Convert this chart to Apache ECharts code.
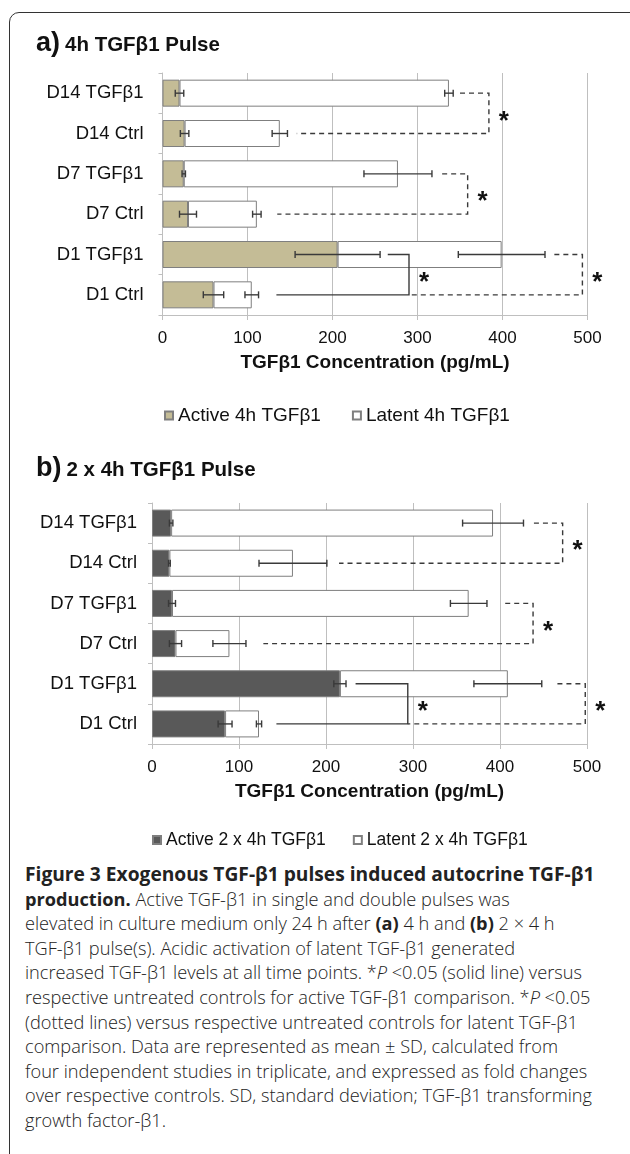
<!DOCTYPE html>
<html>
<head>
<meta charset="utf-8">
<script src="https://cdn.jsdelivr.net/npm/echarts@6/dist/echarts.min.js"></script>
<style>
  html, body { margin: 0; padding: 0; width: 630px; height: 1154px; overflow: hidden; background: #fff; }
  #frame { position: absolute; left: 9px; top: 12px; width: 660px; height: 1200px; border: 1.5px solid #333; border-radius: 10px; box-sizing: border-box; }
  #chart { position: absolute; left: 0; top: 0; width: 630px; height: 860px; }
  #caption { position: absolute; left: 25px; top: 862px; font-family: "Open Sans", "Noto Sans", sans-serif; font-size: 18.2px; font-weight: 300; line-height: 24.6px; color: #222; white-space: nowrap; }
  #caption b { font-weight: 700; }
  #caption .t { font-weight: 700; font-size: 19.2px; }
</style>
</head>
<body>
<div id="frame"></div>
<div id="chart"></div>
<div id="caption">
<span class="t">Figure 3 Exogenous TGF-β1 pulses induced autocrine TGF-β1</span><br>
<b>production.</b> Active TGF-β1 in single and double pulses was<br>
elevated in culture medium only 24 h after <b>(a)</b> 4 h and <b>(b)</b> 2 × 4 h<br>
TGF-β1 pulse(s). Acidic activation of latent TGF-β1 generated<br>
increased TGF-β1 levels at all time points. *<i>P</i> &lt;0.05 (solid line) versus<br>
respective untreated controls for active TGF-β1 comparison. *<i>P</i> &lt;0.05<br>
(dotted lines) versus respective untreated controls for latent TGF-β1<br>
comparison. Data are represented as mean ± SD, calculated from<br>
four independent studies in triplicate, and expressed as fold changes<br>
over respective controls. SD, standard deviation; TGF-β1 transforming<br>
growth factor-β1.
</div>
<script>
// ---- data ----
const categories = ['D14 TGFβ1', 'D14 Ctrl', 'D7 TGFβ1', 'D7 Ctrl', 'D1 TGFβ1', 'D1 Ctrl'];
const xTicks = [0, 100, 200, 300, 400, 500];

// panel a) 4h TGFβ1 pulse
const activeA   = [20, 26, 25, 30, 206, 60];
const activeSdA = [5, 5, 2, 10, 50, 12];
const latentA   = [317, 112, 252, 81, 193, 45];
const latentSdA = [5, 9, 40, 5, 51, 8];

// panel b) 2 x 4h TGFβ1 pulse
const activeB   = [22, 20, 23, 27, 216, 84];
const activeSdB = [2, 1, 4, 7, 7, 8];
const latentB   = [370, 142, 341, 62, 193, 39];
const latentSdB = [35, 39, 21, 19, 39, 3];

// significance brackets: [upper start, vertical, lower start, upper category, lower category, dashed]
const bracketsA = [
  [350, 384, 158, 'D14 TGFβ1', 'D14 Ctrl', 1],
  [329, 359, 135, 'D7 TGFβ1', 'D7 Ctrl', 1],
  [265, 290, 134, 'D1 TGFβ1', 'D1 Ctrl', 0],
  [461, 494, 290, 'D1 TGFβ1', 'D1 Ctrl', 1]
];
const bracketsB = [
  [439, 472, 215, 'D14 TGFβ1', 'D14 Ctrl', 1],
  [406, 438, 128, 'D7 TGFβ1', 'D7 Ctrl', 1],
  [234, 294, 143, 'D1 TGFβ1', 'D1 Ctrl', 0],
  [466, 498, 294, 'D1 TGFβ1', 'D1 Ctrl', 1]
];

const legendA = ['Active 4h TGFβ1', 'Latent 4h TGFβ1'];
const legendB = ['Active 2 x 4h TGFβ1', 'Latent 2 x 4h TGFβ1'];

// ---- helpers ----
const FONT = '"Liberation Sans", Arial, sans-serif';
const GRID_COLOR = '#bfbfbf';
const ERR_COLOR = '#3a3a3a';

function errData(active, activeSd, latent, latentSd) {
  const out = [];
  categories.forEach((c, i) => {
    out.push([c, active[i], activeSd[i]]);
    out.push([c, active[i] + latent[i], latentSd[i]]);
  });
  return out;
}

function renderErr(params, api) {
  const cat = api.value(0), m = api.value(1), sd = api.value(2);
  const p1 = api.coord([m - sd, cat]);
  const p2 = api.coord([m + sd, cat]);
  const h = 3.5;
  const st = { stroke: ERR_COLOR, lineWidth: 1.4 };
  return {
    type: 'group',
    children: [
      { type: 'line', shape: { x1: p1[0], y1: p1[1], x2: p2[0], y2: p2[1] }, style: st },
      { type: 'line', shape: { x1: p1[0], y1: p1[1] - h, x2: p1[0], y2: p1[1] + h }, style: st },
      { type: 'line', shape: { x1: p2[0], y1: p2[1] - h, x2: p2[0], y2: p2[1] + h }, style: st }
    ]
  };
}

function renderBracket(params, api) {
  const xs = api.value(0), xv = api.value(1), xe = api.value(2);
  const ct = api.value(3), cb = api.value(4), dashed = api.value(5);
  const a = api.coord([xs, ct]);
  const b = api.coord([xv, ct]);
  const c = api.coord([xv, cb]);
  const d = api.coord([xe, cb]);
  const midY = (b[1] + c[1]) / 2;
  return {
    type: 'group',
    children: [
      { type: 'polyline', shape: { points: [a, b, c, d] },
        style: { stroke: ERR_COLOR, lineWidth: 1.4, fill: null, lineDash: dashed ? [5, 4] : null } },
      { type: 'text', x: b[0] + 15, y: midY + 8,
        style: { text: '*', font: 'bold 26px ' + FONT, fill: '#111', align: 'center', verticalAlign: 'middle' } }
    ]
  };
}

function xAxisCfg(gi, labelMargin, nameGap) {
  return {
    type: 'value', gridIndex: gi, min: 0, max: 500, interval: 100,
    axisLine: { show: true, lineStyle: { color: GRID_COLOR, width: 1 } },
    axisTick: { show: true, length: 5, lineStyle: { color: GRID_COLOR } },
    splitLine: { show: true, lineStyle: { color: GRID_COLOR, width: 1 } },
    axisLabel: { fontSize: 17, color: '#111', fontFamily: FONT, margin: labelMargin,
      formatter: v => (xTicks.indexOf(v) >= 0 ? String(v) : '') },
    name: 'TGFβ1 Concentration (pg/mL)', nameLocation: 'middle', nameGap: nameGap,
    nameTextStyle: { fontSize: 19, fontWeight: 'bold', color: '#111', fontFamily: FONT }
  };
}

function yAxisCfg(gi, labelMargin) {
  return {
    type: 'category', gridIndex: gi, data: categories, inverse: true,
    axisLine: { show: true, lineStyle: { color: GRID_COLOR } },
    axisTick: { show: true, length: 4, lineStyle: { color: GRID_COLOR } },
    axisLabel: { fontSize: 18.5, color: '#111', fontFamily: FONT, margin: labelMargin }
  };
}

function barSeries(name, gi, data, color, stack) {
  return {
    name: name, type: 'bar', xAxisIndex: gi, yAxisIndex: gi, stack: stack,
    data: data, barWidth: 27,
    itemStyle: { color: color, borderColor: '#7f7f7f', borderWidth: 1 },
    emphasis: { disabled: true }, animation: false
  };
}

const titleStyle = {
  fontFamily: FONT, color: '#111',
  rich: {
    big: { fontSize: 27, fontWeight: 'bold', fontFamily: FONT, color: '#111' },
    t: { fontSize: 20.5, fontWeight: 'bold', fontFamily: FONT, color: '#111', padding: [4, 0, 0, 0] }
  }
};

const option = {
  animation: false,
  textStyle: { fontFamily: FONT },
  title: [
    { text: '{big|a)} {t|4h TGFβ1 Pulse}', left: 31, top: 25, textStyle: titleStyle },
    { text: '{big|b)} {t|2 x 4h TGFβ1 Pulse}', left: 31, top: 450, textStyle: titleStyle }
  ],
  legend: [
    { data: legendA, left: 159, top: 401, icon: 'rect', itemWidth: 8, itemHeight: 8, itemGap: 31,
      textStyle: { fontSize: 19, color: '#111', fontFamily: FONT }, selectedMode: false },
    { data: legendB, left: 147, top: 826, icon: 'rect', itemWidth: 8, itemHeight: 8, itemGap: 27,
      textStyle: { fontSize: 17.5, color: '#111', fontFamily: FONT }, selectedMode: false }
  ],
  grid: [
    { left: 162.5, top: 73, width: 425, height: 242 },
    { left: 152, top: 503, width: 435, height: 241 }
  ],
  xAxis: [xAxisCfg(0, 14.5, 38), xAxisCfg(1, 14.5, 38)],
  yAxis: [yAxisCfg(0, 19), yAxisCfg(1, 15)],
  series: [
    barSeries(legendA[0], 0, activeA, '#c4bc96', 'a'),
    barSeries(legendA[1], 0, latentA, '#ffffff', 'a'),
    { type: 'custom', xAxisIndex: 0, yAxisIndex: 0, renderItem: renderErr,
      data: errData(activeA, activeSdA, latentA, latentSdA), encode: { x: [1, 2], y: 0 }, z: 5, silent: true },
    { type: 'custom', xAxisIndex: 0, yAxisIndex: 0, renderItem: renderBracket,
      data: bracketsA, encode: { x: [0, 1, 2], y: [3, 4] }, z: 5, silent: true },
    barSeries(legendB[0], 1, activeB, '#595959', 'b'),
    barSeries(legendB[1], 1, latentB, '#ffffff', 'b'),
    { type: 'custom', xAxisIndex: 1, yAxisIndex: 1, renderItem: renderErr,
      data: errData(activeB, activeSdB, latentB, latentSdB), encode: { x: [1, 2], y: 0 }, z: 5, silent: true },
    { type: 'custom', xAxisIndex: 1, yAxisIndex: 1, renderItem: renderBracket,
      data: bracketsB, encode: { x: [0, 1, 2], y: [3, 4] }, z: 5, silent: true }
  ]
};

const chart = echarts.init(document.getElementById('chart'), null, { renderer: 'canvas' });
chart.setOption(option);
</script>
</body>
</html>
